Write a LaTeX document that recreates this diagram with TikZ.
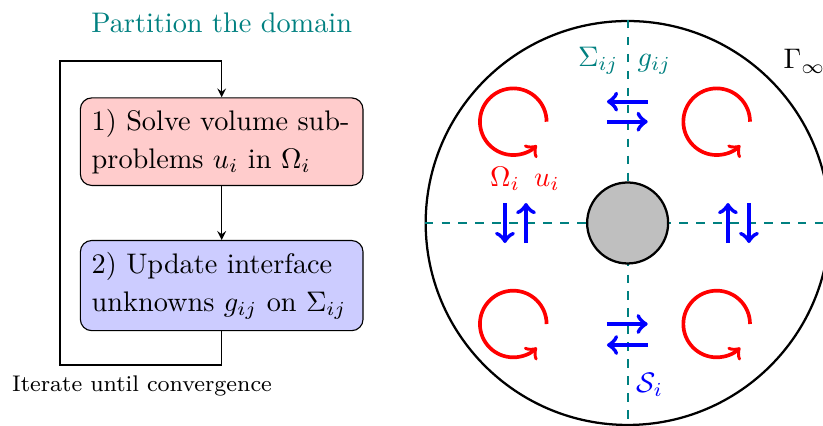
\documentclass[tikz,border=0pt]{standalone}
\usepackage{amsmath}
\usepackage{amssymb}
\usetikzlibrary{positioning,arrows,calc}

\begin{document}
\begin{tikzpicture}[
    stepbox/.style={rectangle, draw, rounded corners, text width=3.23cm, align=left, inner sep=4pt, minimum height=1.08cm, font=\fontsize{10}{13.5}\selectfont},
    interface/.style={teal, thick, dashed},
    swirl/.style={red, line width=1.3pt, ->},
    flux/.style={blue, line width=1.5pt, ->}
]
    \useasboundingbox (0,0) rectangle (10.224,-5.280);

    % algorithm
    \node[text=teal] (title) at (2.754,-0.286) {Partition the domain};

    \node[stepbox, fill=red!20] (solve) at (2.754,-1.760) {
        1) Solve volume sub-\\problems $u_i$ in $\Omega_i$
    };
    \node[stepbox, fill=blue!20, below=0.67cm of solve] (update) {
        2) Update interface\\unknowns $g_{ij}$ on $\Sigma_{ij}$
    };

    \coordinate (loopbl) at (0.745,-4.534);
    \coordinate (looptl) at (0.745,-0.758);
    \draw[-stealth] (solve) -- (update);
    \draw[-stealth] (update.south) |- (loopbl) -- (looptl) -| (solve.north);
    \node[font=\footnotesize] (iter) at (1.764,-4.80) {Iterate until convergence};

    % domain
    \coordinate (O) at (7.797,-2.770);
    \node[circle, draw, thick, minimum size=5.018cm, inner sep=0pt] (outer) at (O) {};
    \draw[interface] (outer.north) -- (outer.south);
    \draw[interface] (outer.west) -- (outer.east);
    \node[circle, draw, thick, fill=gray!50, minimum size=1.006cm, inner sep=0pt] (obstacle) at (O) {};

    \draw[swirl] (6.790,-1.512) arc (0:315:0.414);
    \draw[swirl] (9.317,-1.512) arc (0:315:0.414);
    \draw[swirl] (6.790,-4.025) arc (0:315:0.414);
    \draw[swirl] (9.317,-4.025) arc (0:315:0.414);

    \draw[flux] (8.046,-1.263) -- (7.540,-1.263);
    \draw[flux] (7.540,-1.512) -- (8.046,-1.512);
    \draw[flux] (7.540,-4.025) -- (8.046,-4.025);
    \draw[flux] (8.046,-4.286) -- (7.540,-4.286);
    \draw[flux] (6.273,-2.522) -- (6.273,-3.019);
    \draw[flux] (6.534,-3.019) -- (6.534,-2.522);
    \draw[flux] (9.043,-3.019) -- (9.043,-2.522);
    \draw[flux] (9.304,-2.522) -- (9.304,-3.019);

    \node[text=teal, anchor=base east, inner sep=0pt] (sigma) at (7.689,-0.820) {$\Sigma_{ij}$};
    \node[text=teal, anchor=base west, inner sep=0pt] (gij) at (7.913,-0.820) {$g_{ij}$};
    \node[text=red, anchor=base, inner sep=0pt] (omega) at (6.522,-2.311) {$\Omega_i\enspace u_i$};
    \node[text=blue, anchor=base west, inner sep=0pt] (si) at (7.901,-4.870) {$\mathcal{S}_i$};
    \node[anchor=base west, inner sep=0pt] (gamma) at (9.727,-0.857) {$\Gamma_\infty$};
\end{tikzpicture}
\end{document}
